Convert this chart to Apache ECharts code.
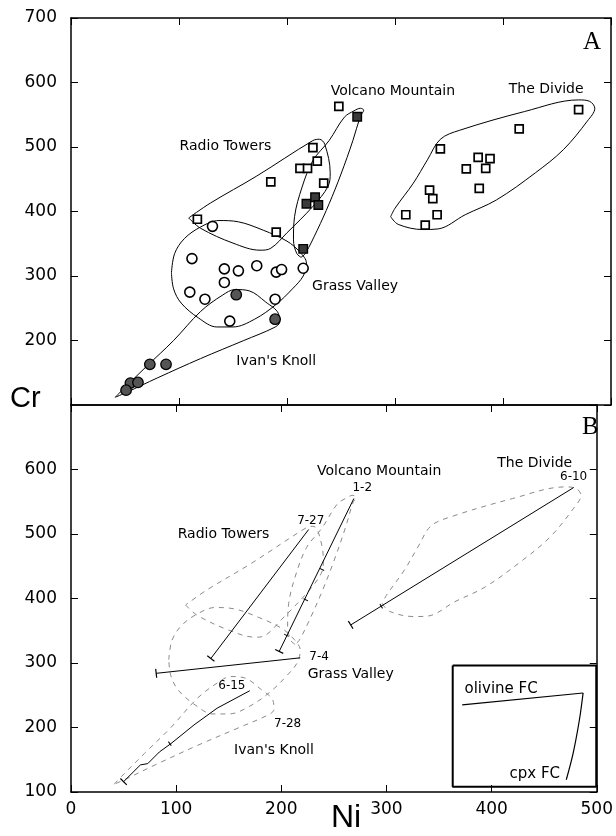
<!DOCTYPE html>
<html>
<head>
<meta charset="utf-8">
<script src="https://cdn.jsdelivr.net/npm/echarts@6/dist/echarts.min.js"></script>
<style>
html,body{margin:0;padding:0;background:#fff}
#chart{width:616px;height:836px}
</style>
</head>
<body>
<div id="chart"></div>
<script>
// Ni (x) and Cr (y) axis ranges, ppm
const niTicks = [0, 100, 200, 300, 400, 500];
const crTicks = [100, 200, 300, 400, 500, 600, 700];

// Sample analyses, [Ni, Cr]
const radioTowers = [[117,388],[185,446],[190,368],[224,499],[212,467],[219,467],[228,478],[234,444]];
const volcanoOpen = [[248,563]];
const volcanoMtn = [[265,547],[218,412],[226,422],[229,410],[215,342]];
const theDivide = [[470,558],[415,528],[342,497],[377,484],[388,482],[366,466],[384,467],[378,436],[332,433],[335,420],[339,395],[310,395],[328,379]];
const grassValley = [[131,377],[112,327],[142,311],[155,308],[172,316],[190,306],[195,310],[215,312],[142,290],[110,275],[124,264],[189,264],[147,230]];
const ivansKnoll = [[153,271],[189,233],[73,163],[88,163],[55,134],[62,135],[51,123]];

// Field outlines for each volcanic centre
const envRadio = [[109,390],[120,374],[150,351],[175,340],[185,343],[200,367],[224,408],[238,439],[240,460],[235,504],[230,512],[224,510],[172,455],[129,413],[109,390]];
const envVolcano = [[213,329],[209,335],[206,356],[207,392],[214,438],[224,479],[239,510],[253,546],[262,556],[268,560],[271,557],[268,548],[261,510],[250,458],[239,412],[228,371],[217,335],[213,329]];
const envGrass = [[93,305],[96,335],[105,358],[120,376],[137,386],[155,384],[178,371],[200,354],[212,337],[218,320],[215,300],[205,280],[190,256],[170,233],[150,221],[135,221],[118,235],[102,258],[95,280],[93,305]];
const envIvan = [[41,112],[48,124],[70,160],[95,200],[120,245],[140,270],[152,279],[165,277],[180,260],[192,242],[193,228],[188,220],[160,200],[120,172],[80,142],[52,120],[41,112]];
const envDivide = [[296,392],[303,380],[326,372],[340,373],[365,395],[394,418],[430,460],[456,496],[478,540],[485,560],[480,571],[470,573],[420,555],[360,526],[342,512],[330,480],[317,444],[300,405],[296,392]];

// Fractional crystallization model paths, parent first
const fcVolcano = [[269,555],[198,318]];
const fcRadio = [[226,507],[133,307]];
const fcGrass = [[218,308],[81,284]];
const fcIvan = [[170,257],[139,230],[117,204],[95,175],[84,162],[73,144],[66,142],[50,116]];
const fcDivide = [[478,572],[266,359]];
// Increment marks along the model paths
const fcStepsVolcano = [[238.6,445],[223.3,398],[204.8,343]];
const fcStepsDivide = [[295,388]];
const fcStepsIvan = [[94,175]];

// Inset: model vectors
const insetBox = [[363,296],[499.5,296],[499.5,108],[363,108],[363,296]];
const olivineFC = [[372,235],[487,253.5]];
const cpxFC = [[487,253.5],[483.5,212],[477.5,160],[471,119]];

// Annotations [text, Ni, Cr]
const notesA = [['Radio Towers',143,501],['Volcano Mountain',298,586],['The Divide',440,589],['Grass Valley',263,284],["Ivan's Knoll",190,168]];
const notesB = [['Radio Towers',145,499],['Volcano Mountain',293,597],['The Divide',441,610],['Grass Valley',266,283],["Ivan's Knoll",193,165]];
const sampleIds = [['1-2',277,571],['6-10',478,589],['7-27',228,520],['7-4',236,310],['6-15',153,264],['7-28',206,205]];
const insetNotes = [['olivine FC',409,260],['cpx FC',441,127]];

const FONT = '"DejaVu Sans", Verdana, sans-serif';
const chart = echarts.init(document.getElementById('chart'), null, {renderer: 'canvas'});

const G = {left: 71, right: 5, height: 387};
const grids = [
  Object.assign({top: 18}, G),
  Object.assign({top: 405}, G)
];

function xAx(grid, pos, labels) {
  return {
    type: 'value', gridIndex: grid, position: pos,
    min: niTicks[0], max: niTicks[niTicks.length - 1], interval: niTicks[1] - niTicks[0],
    axisLine: {show: true, onZero: false, lineStyle: {color: '#000', width: 1.5}},
    axisTick: {show: true, inside: true, length: 7, lineStyle: {color: '#000', width: 1}},
    axisLabel: {show: labels, color: '#000', fontFamily: FONT, fontSize: 17, margin: 9},
    splitLine: {show: false}
  };
}
function yAx(grid, pos, labels, hideMin, hideMax) {
  return {
    type: 'value', gridIndex: grid, position: pos,
    min: crTicks[0], max: crTicks[crTicks.length - 1], interval: crTicks[1] - crTicks[0],
    axisLine: {show: true, onZero: false, lineStyle: {color: '#000', width: 1.5}},
    axisTick: {show: true, inside: true, length: 7, lineStyle: {color: '#000', width: 1}},
    axisLabel: {show: labels, color: '#000', fontFamily: FONT, fontSize: 17, margin: 14,
      showMinLabel: !hideMin, showMaxLabel: !hideMax},
    splitLine: {show: false}
  };
}

function outline(data, panel, dashed) {
  return {
    type: 'line', xAxisIndex: panel * 2, yAxisIndex: panel * 2, data: data,
    smooth: 0.35, showSymbol: false, silent: true, z: 2,
    lineStyle: dashed ? {color: '#8a8a8a', width: 1, type: [5, 5]} : {color: '#000', width: 1}
  };
}
function pts(data, symbol, size, fill, border, bw) {
  return {
    type: 'scatter', xAxisIndex: 0, yAxisIndex: 0, data: data, symbol: symbol, symbolSize: size, z: 5,
    itemStyle: {color: fill, borderColor: border, borderWidth: bw, opacity: 1}
  };
}
function notes(list, panel, size) {
  return {
    type: 'scatter', xAxisIndex: panel * 2, yAxisIndex: panel * 2, symbolSize: 0, z: 8, silent: true,
    itemStyle: {opacity: 1},
    data: list.map(n => ({name: n[0], value: [n[1], n[2]]})),
    label: {show: true, position: 'inside', formatter: p => p.name, color: '#000', opacity: 1,
      fontFamily: FONT, fontSize: size}
  };
}
function path(data, width, smooth) {
  return {
    type: 'line', xAxisIndex: 2, yAxisIndex: 2, data: data, smooth: smooth || false,
    showSymbol: false, silent: true, z: 4, clip: false,
    lineStyle: {color: '#000', width: width}
  };
}

const fcPaths = [fcVolcano, fcRadio, fcGrass, fcIvan, fcDivide];

const option = {
  animation: false,
  backgroundColor: '#fff',
  grid: grids,
  xAxis: [xAx(0, 'bottom', false), xAx(0, 'top', false), xAx(1, 'bottom', true), xAx(1, 'top', false)],
  yAxis: [yAx(0, 'left', true, true, false), yAx(0, 'right', false), yAx(1, 'left', true, false, true), yAx(1, 'right', false)],
  series: [
    outline(envRadio, 0), outline(envVolcano, 0), outline(envGrass, 0), outline(envIvan, 0), outline(envDivide, 0),
    outline(envRadio, 1, true), outline(envVolcano, 1, true), outline(envGrass, 1, true), outline(envIvan, 1, true), outline(envDivide, 1, true),
    pts(radioTowers, 'rect', 8, '#fff', '#000', 1.7),
    pts(volcanoOpen, 'rect', 8, '#fff', '#000', 1.7),
    pts(theDivide, 'rect', 8, '#fff', '#000', 1.7),
    pts(volcanoMtn, 'rect', 8.5, '#3a3a3a', '#000', 1.4),
    pts(grassValley, 'circle', 10, '#fff', '#000', 1.6),
    pts(ivansKnoll, 'circle', 10.5, '#555', '#000', 1.3),
    ...fcPaths.map(p => path(p, 1)),
    path(insetBox, 2), path(olivineFC, 1.2), path(cpxFC, 1.2, 0.3),
    notes(notesA, 0, 14), notes(notesB, 1, 14), notes(sampleIds, 1, 12), notes(insetNotes, 1, 15)
  ],
  graphic: [
    {type: 'text', left: 10, top: 384, style: {text: 'Cr', font: '29px "Liberation Sans", Arial, sans-serif', fill: '#000'}},
    {type: 'text', left: 331, top: 802, style: {text: 'Ni', font: '32px "Liberation Sans", Arial, sans-serif', fill: '#000'}},
    {type: 'text', left: 583, top: 30, style: {text: 'A', font: '25px "Liberation Serif", "Times New Roman", serif', fill: '#000'}},
    {type: 'text', left: 582, top: 415, style: {text: 'B', font: '25px "Liberation Serif", "Times New Roman", serif', fill: '#000'}}
  ]
};
chart.setOption(option);

// Bars drawn across a model path at the given points, oriented by the path direction
function angleOf(p) {
  const a = chart.convertToPixel({gridIndex: 1}, p[0]);
  const b = chart.convertToPixel({gridIndex: 1}, p[p.length - 1]);
  return Math.atan2(-(b[1] - a[1]), b[0] - a[0]) * 180 / Math.PI;
}
const caps = fcPaths.map(p => {
  const a = chart.convertToPixel({gridIndex: 1}, p[p.length - 2]);
  const b = chart.convertToPixel({gridIndex: 1}, p[p.length - 1]);
  return {value: p[p.length - 1], symbolRotate: Math.atan2(-(b[1] - a[1]), b[0] - a[0]) * 180 / Math.PI};
});
const steps = []
  .concat(fcStepsVolcano.map(v => ({value: v, symbolRotate: angleOf(fcVolcano)})))
  .concat(fcStepsDivide.map(v => ({value: v, symbolRotate: angleOf(fcDivide)})))
  .concat(fcStepsIvan.map(v => ({value: v, symbolRotate: angleOf(fcIvan)})));
option.series.push({
  type: 'scatter', xAxisIndex: 2, yAxisIndex: 2, data: caps, symbol: 'rect', symbolSize: [1.2, 9],
  itemStyle: {color: '#000', opacity: 1}, z: 6, silent: true
});
option.series.push({
  type: 'scatter', xAxisIndex: 2, yAxisIndex: 2, data: steps, symbol: 'rect', symbolSize: [1, 5],
  itemStyle: {color: '#000', opacity: 1}, z: 6, silent: true
});
chart.setOption(option, true);
</script>
</body>
</html>
